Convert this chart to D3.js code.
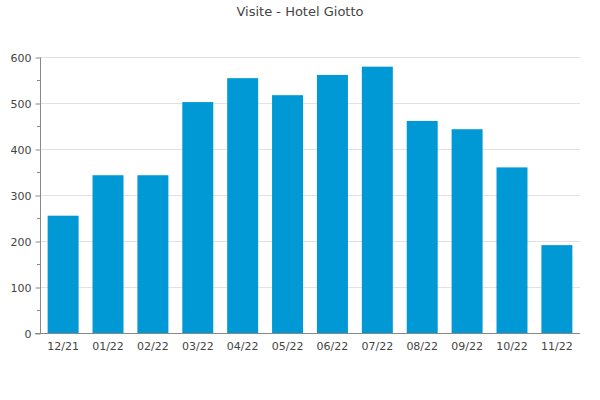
<!DOCTYPE html>
<html>
<head>
<meta charset="utf-8">
<script src="https://cdn.jsdelivr.net/npm/d3@7"></script>
<style>
body { margin: 0; background: #fff; }
svg text { font-family: "DejaVu Sans", sans-serif; }
</style>
</head>
<body>
<svg id="chart" width="600" height="400"></svg>
<script>
const categories = ["12/21","01/22","02/22","03/22","04/22","05/22","06/22","07/22","08/22","09/22","10/22","11/22"];
const visits = [255, 343, 343, 502, 554, 517, 561, 579, 461, 443, 360, 191];
const yTicks = [0, 100, 200, 300, 400, 500, 600];
const title = "Visite - Hotel Giotto";

const svg = d3.select("#chart");
const mLeft = 40, mRight = 580, mTop = 57, mBottom = 333;

const x = d3.scaleBand().domain(categories).range([mLeft, mRight]).paddingInner(0.31).paddingOuter(0.17);
const y = d3.scaleLinear().domain([0, 600]).range([mBottom, mTop]);

svg.append("rect").attr("width", 600).attr("height", 400).attr("fill", "#fff");

// title
svg.append("text").attr("x", 300).attr("y", 16).attr("text-anchor", "middle")
  .attr("font-size", 13).attr("fill", "#444").text(title);

// gridlines
svg.append("g").selectAll("line").data(yTicks.filter(d => d > 0)).join("line")
  .attr("x1", mLeft).attr("x2", mRight)
  .attr("y1", d => Math.round(y(d)) + 0.5).attr("y2", d => Math.round(y(d)) + 0.5)
  .attr("stroke", "#e2e2e2").attr("stroke-width", 1);

// bars
svg.append("g").selectAll("rect").data(visits).join("rect")
  .attr("x", (d, i) => x(categories[i]))
  .attr("width", x.bandwidth())
  .attr("y", d => y(d))
  .attr("height", d => y(0) - y(d))
  .attr("fill", "#0099d6");

// minor ticks on y axis
const minor = d3.range(50, 600, 100);
svg.append("g").selectAll("line").data(minor).join("line")
  .attr("x1", mLeft - 3).attr("x2", mLeft)
  .attr("y1", d => Math.round(y(d)) + 0.5).attr("y2", d => Math.round(y(d)) + 0.5)
  .attr("stroke", "#888");

// y axis
const yAxis = d3.axisLeft(y).tickValues(yTicks).tickSize(5).tickPadding(4);
const gy = svg.append("g").attr("transform", `translate(${mLeft + 0.5},0.5)`).call(yAxis);
gy.select(".domain").attr("stroke", "#888").attr("d", `M0,${y(600)}V${y(0)}`);
gy.selectAll(".tick line").attr("stroke", "#888");
gy.selectAll(".tick text").attr("font-size", 11).attr("fill", "#444").attr("font-family", "DejaVu Sans, sans-serif");

// x axis
const xAxis = d3.axisBottom(x).tickSize(0).tickPadding(9);
const gx = svg.append("g").attr("transform", `translate(0,${mBottom + 0.5})`).call(xAxis);
gx.select(".domain").attr("stroke", "#888").attr("d", `M${mLeft - 5},0H${mRight}`);
gx.selectAll(".tick text").attr("font-size", 11).attr("fill", "#444").attr("font-family", "DejaVu Sans, sans-serif");
</script>
</body>
</html>
